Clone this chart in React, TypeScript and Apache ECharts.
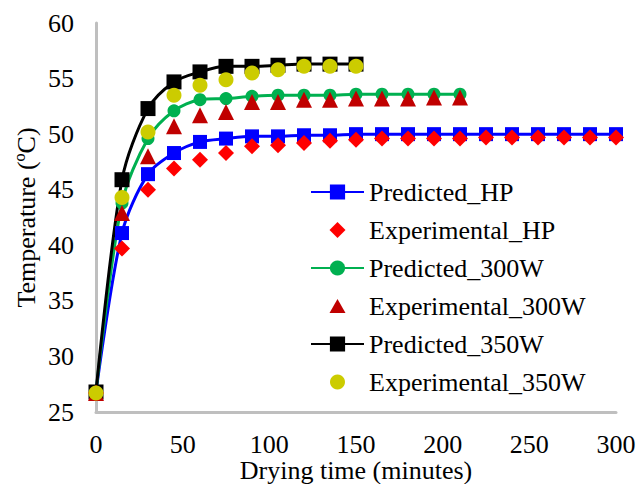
import React, { useEffect, useRef } from "react";
import * as echarts from "echarts";

const timesHP = [0, 15, 30, 45, 60, 75, 90, 105, 120, 135, 150, 165, 180, 195, 210, 225, 240, 255, 270, 285, 300];
const times300 = [0, 15, 30, 45, 60, 75, 90, 105, 120, 135, 150, 165, 180, 195, 210];
const times350 = [0, 15, 30, 45, 60, 75, 90, 105, 120, 135, 150];

const predictedHP = [26.8, 41.1, 46.4, 48.3, 49.3, 49.6, 49.8, 49.8, 49.9, 49.9, 50.0, 50.0, 50.0, 50.0, 50.0, 50.0, 50.0, 50.0, 50.0, 50.0, 50.0];
const experimentalHP = [26.7, 39.7, 45.0, 46.9, 47.7, 48.3, 48.9, 49.0, 49.2, 49.4, 49.5, 49.6, 49.6, 49.6, 49.6, 49.7, 49.7, 49.7, 49.7, 49.7, 49.7];
const predicted300 = [26.8, 43.8, 49.6, 52.1, 53.1, 53.2, 53.4, 53.5, 53.5, 53.5, 53.6, 53.6, 53.6, 53.6, 53.6];
const experimental300 = [26.7, 42.9, 48.0, 50.7, 51.7, 52.0, 52.9, 52.9, 53.1, 53.1, 53.2, 53.2, 53.2, 53.3, 53.3];
const predicted350 = [26.8, 45.9, 52.3, 54.7, 55.6, 56.1, 56.1, 56.2, 56.3, 56.3, 56.3];
const experimental350 = [26.7, 44.3, 50.2, 53.5, 54.4, 54.9, 55.5, 55.8, 56.1, 56.1, 56.1];

const seriesNames = [
  "Predicted_HP",
  "Experimental_HP",
  "Predicted_300W",
  "Experimental_300W",
  "Predicted_350W",
  "Experimental_350W",
];

const xTicks = [0, 50, 100, 150, 200, 250, 300];
const yTicks = [25, 30, 35, 40, 45, 50, 55, 60];

const FONT = "'Liberation Serif', 'Times New Roman', serif";

const pair = (xs: number[], ys: number[]) => xs.map((x, i) => [x, ys[i]]);

const box = "M0,0L0,0M19,19L19,19";
const diamondIcon = `path://${box}M9.5,1.5L17.5,9.5L9.5,17.5L1.5,9.5Z`;
const triangleIcon = `path://${box}M9.5,2.5L17.5,16.5L1.5,16.5Z`;
const circleIcon = `path://${box}M9.5,2A7.5,7.5 0 1 1 9.49,2Z`;

export default function App() {
  const ref = useRef<HTMLDivElement>(null);

  useEffect(() => {
    if (!ref.current) return;
    const chart = echarts.init(ref.current, null, { renderer: "svg" });

    const lineSeries = (name: string, data: number[][], color: string, symbol: string, size: number) => ({
      name,
      type: "line",
      data,
      smooth: 0.3,
      symbol,
      symbolSize: size,
      showAllSymbol: true,
      lineStyle: { color, width: 3 },
      itemStyle: { color },
      z: 2,
    });
    const scatterSeries = (name: string, data: number[][], color: string, symbol: string, size: number) => ({
      name,
      type: "scatter",
      data,
      symbol,
      symbolSize: size,
      itemStyle: { color, opacity: 1 },
      z: 3,
    });

    chart.setOption({
      animation: false,
      backgroundColor: "#ffffff",
      grid: { left: 96, right: 22, top: 23, bottom: 72, containLabel: false, outerBoundsMode: "none" },
      legend: {
        orient: "vertical",
        left: 310,
        top: 177,
        padding: 0,
        itemWidth: 53,
        itemHeight: 19,
        itemGap: 8,
        textStyle: { fontFamily: FONT, fontSize: 26, color: "#000", lineHeight: 30 },
        data: [
          { name: seriesNames[0] },
          { name: seriesNames[1], icon: diamondIcon },
          { name: seriesNames[2] },
          { name: seriesNames[3], icon: triangleIcon },
          { name: seriesNames[4] },
          { name: seriesNames[5], icon: circleIcon },
        ],
      },
      xAxis: {
        type: "value",
        min: 0,
        max: 300,
        interval: 50,
        name: "Drying time (minutes)",
        nameLocation: "middle",
        nameGap: 46,
        nameMoveOverlap: false,
        nameTextStyle: { fontFamily: FONT, fontSize: 26, color: "#000", lineHeight: 24 },
        axisLine: { show: true, lineStyle: { color: "#bfbfbf", width: 3 } },
        axisTick: { show: false },
        splitLine: { show: false },
        axisLabel: {
          margin: 20,
          fontFamily: FONT,
          fontSize: 26,
          lineHeight: 24,
          color: "#000",
          customValues: xTicks,
        },
      },
      yAxis: {
        type: "value",
        min: 25,
        max: 60,
        interval: 5,
        name: "Temperature (ºC)",
        nameLocation: "middle",
        nameRotate: 90,
        nameGap: 57,
        nameMoveOverlap: false,
        nameTextStyle: { fontFamily: FONT, fontSize: 26, color: "#000" },
        axisLine: { show: true, lineStyle: { color: "#bfbfbf", width: 3 } },
        axisTick: { show: false },
        splitLine: { show: false },
        axisLabel: {
          margin: 22,
          fontFamily: FONT,
          fontSize: 26,
          color: "#000",
          customValues: yTicks,
        },
      },
      series: [
        lineSeries(seriesNames[0], pair(timesHP, predictedHP), "#0000ff", "rect", 14),
        scatterSeries(seriesNames[1], pair(timesHP, experimentalHP), "#ff0000", "diamond", 16),
        lineSeries(seriesNames[2], pair(times300, predicted300), "#00b050", "circle", 13),
        scatterSeries(seriesNames[3], pair(times300, experimental300), "#c00000", "triangle", 16),
        lineSeries(seriesNames[4], pair(times350, predicted350), "#000000", "rect", 15),
        scatterSeries(seriesNames[5], pair(times350, experimental350), "#cccc00", "circle", 15),
      ],
    });

    return () => chart.dispose();
  }, []);

  return (
    <div
      ref={ref}
      style={{ position: "fixed", left: 0, top: 0, width: 638, height: 484, background: "#fff" }}
    />
  );
}
